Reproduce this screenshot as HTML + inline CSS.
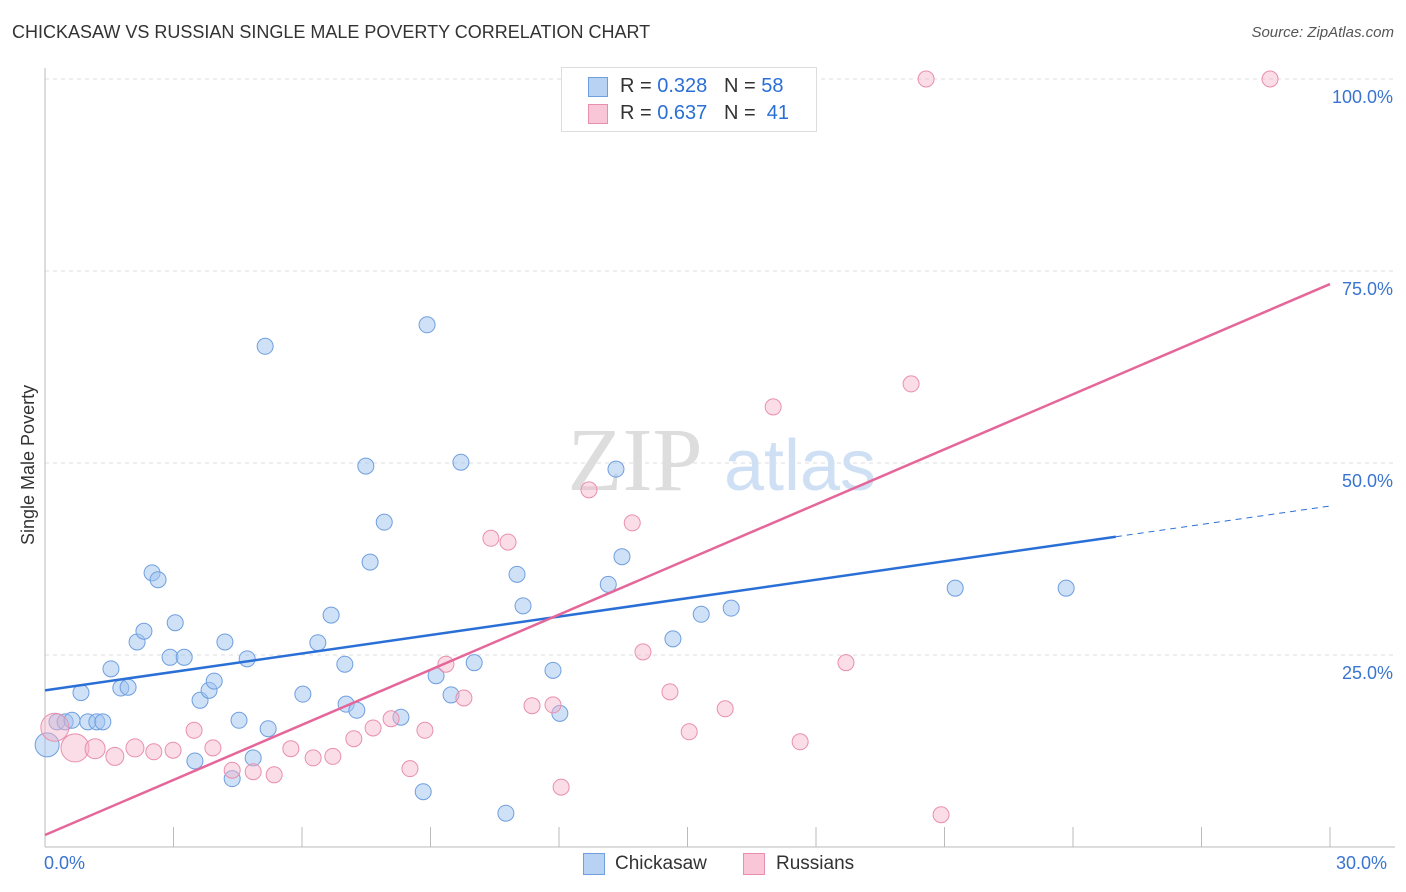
<!DOCTYPE html>
<html><head><meta charset="utf-8">
<style>
body{margin:0;background:#fff;font-family:"Liberation Sans",sans-serif;}
#wrap{position:relative;width:1406px;height:892px;overflow:hidden;}
.t{position:absolute;white-space:nowrap;}
</style></head><body>
<div id="wrap">
<div class="t" style="left:12px;top:22px;font-size:18px;color:#333;">CHICKASAW VS RUSSIAN SINGLE MALE POVERTY CORRELATION CHART</div>
<div class="t" style="right:12px;top:24px;font-size:15px;color:#555;font-style:italic;">Source: ZipAtlas.com</div>
<svg id="svg" width="1406" height="892" style="position:absolute;left:0;top:0"></svg>
</div>
<script>
const blueX=[0.05,0.28,0.47,0.63,1.0,1.21,1.35,0.84,1.54,1.77,1.94,2.15,2.31,2.50,2.64,2.92,3.04,3.25,3.62,3.83,3.95,4.20,4.53,4.72,4.86,4.37,3.50,5.14,5.21,6.02,6.37,6.68,7.00,7.03,7.28,7.49,7.59,7.92,8.31,8.83,8.92,9.13,9.48,9.71,10.02,11.02,11.16,10.76,11.86,12.02,13.15,13.33,13.47,14.66,15.32,16.02,21.25,23.84];
const blueY=[13.3,16.3,16.3,16.5,16.3,16.3,16.3,20.1,23.2,20.7,20.8,26.7,28.1,35.7,34.8,24.7,29.2,24.7,19.1,20.4,21.6,26.7,16.5,24.5,11.6,8.9,11.2,65.2,15.4,19.9,26.6,30.2,23.8,18.6,17.8,49.6,37.1,42.3,16.9,7.2,68.0,22.3,19.8,50.1,24.0,35.5,31.4,4.4,23.0,17.4,34.2,49.2,37.8,27.1,30.3,31.1,33.7,33.7];
const pinkX=[0.23,0.70,1.17,1.63,2.10,2.54,2.99,3.48,3.92,4.37,4.86,5.35,5.74,6.26,6.72,7.21,7.66,8.08,8.52,8.87,9.36,9.78,10.41,10.81,11.37,11.86,12.05,12.70,13.71,13.96,14.59,15.04,15.88,15.62,17.63,18.70,20.22,17.00,20.57,20.92,28.60];
const pinkY=[15.6,12.9,12.8,11.8,12.9,12.4,12.6,15.2,12.9,10.0,9.8,9.4,12.8,11.6,11.8,14.1,15.5,16.7,10.2,15.2,23.8,19.4,40.2,39.7,18.4,18.5,7.8,46.5,42.2,25.4,20.2,15.0,18.0,100,13.7,24.0,60.3,57.3,100,4.2,100];
const pinkR=[14,14,10,9,9,8,8,8,8,8,8,8,8,8,8,8,8,8,8,8,8,8,8,8,8,8,8,8,8,8,8,8,8,8,8,8,8,8,8,8,8];
const yTicks=[25,50,75,100];
const blueTrend=[20.4,44.4], pinkTrend=[1.56,73.3];
const svg=document.getElementById('svg');
const NS='http://www.w3.org/2000/svg';
const X=v=>45+v*(1285/30), Y=v=>847-v*7.68;
function mk(t,a,p){const e=document.createElementNS(NS,t);for(const k in a)e.setAttribute(k,a[k]);(p||svg).appendChild(e);return e;}
// grid
yTicks.forEach(v=>{const l=mk('line',{x1:45,x2:1395,y1:Y(v),y2:Y(v),stroke:'#ddd','stroke-dasharray':'4,4'});

const t=mk('text',{x:1393,y:Y(v)+24,'text-anchor':'end','font-size':'18',fill:'#3a74d0','font-family':'Liberation Sans'});t.textContent=v.toFixed(1)+'%';
});
let ax=mk('line',{x1:45,x2:45,y1:68,y2:847,stroke:'#bbb'});
ax=mk('line',{x1:45,x2:1395,y1:847,y2:847,stroke:'#bbb'});
for(let i=1;i<=10;i++){const l=mk('line',{x1:X(i*3),x2:X(i*3),y1:827,y2:847,stroke:'#bbb'});}
// watermark
let w=mk('text',{x:635,y:490,'font-size':'90','font-family':'Liberation Serif',fill:'#ddd','text-anchor':'middle'});w.textContent='ZIP';

w=mk('text',{x:800,y:490,'font-size':'72','font-family':'Liberation Sans',fill:'#cfe0f5','text-anchor':'middle'});w.textContent='atlas';

// points
blueX.forEach((x,i)=>{const c=mk('circle',{cx:X(x),cy:Y(blueY[i]),r:i==0?12:8,fill:'rgba(160,195,240,0.5)',stroke:'#6f9fdf','stroke-width':1});
});
pinkX.forEach((x,i)=>{const c=mk('circle',{cx:X(x),cy:Y(pinkY[i]),r:pinkR[i],fill:'rgba(245,180,200,0.45)',stroke:'#e98fae','stroke-width':1});
});
// trends
const bs=(blueTrend[1]-blueTrend[0])/30;
let l=mk('line',{x1:X(0),y1:Y(blueTrend[0]),x2:X(25),y2:Y(blueTrend[0]+bs*25),stroke:'#2a6fd6','stroke-width':2.5});

l=mk('line',{x1:X(25),y1:Y(blueTrend[0]+bs*25),x2:X(30),y2:Y(blueTrend[1]),stroke:'#2a6fd6','stroke-width':1,'stroke-dasharray':'6,5'});

l=mk('line',{x1:X(0),y1:Y(pinkTrend[0]),x2:X(30),y2:Y(pinkTrend[1]),stroke:'#e5679a','stroke-width':2.5});

</script>
<div class="t" style="left:18px;top:545px;transform:rotate(-90deg);transform-origin:0 0;font-size:18px;color:#333;">Single Male Poverty</div>
<div class="t" style="left:44px;top:853px;font-size:18px;color:#3a74d0;">0.0%</div>
<div class="t" style="left:1336px;top:853px;font-size:18px;color:#3a74d0;">30.0%</div>
<div style="position:absolute;left:561px;top:67px;width:254px;height:63px;border:1px solid #ddd;background:#fff;font-size:20px;color:#333;">
<div style="position:absolute;left:26px;top:9px;width:18px;height:18px;background:#b8d2f3;border:1px solid #6f9fdf;"></div>
<div class="t" style="left:58px;top:7px;">R = <span style="color:#2a6fd6">0.328</span>&nbsp;&nbsp;&nbsp;N = <span style="color:#2a6fd6">58</span></div>
<div style="position:absolute;left:26px;top:36px;width:18px;height:18px;background:#f8c6d6;border:1px solid #e98fae;"></div>
<div class="t" style="left:58px;top:34px;">R = <span style="color:#2a6fd6">0.637</span>&nbsp;&nbsp;&nbsp;N = &nbsp;<span style="color:#2a6fd6">41</span></div>
</div>
<div style="position:absolute;left:583px;top:853px;width:20px;height:20px;background:#b8d2f3;border:1px solid #6f9fdf;"></div>
<div class="t" style="left:615px;top:853px;font-size:19px;color:#333;">Chickasaw</div>
<div style="position:absolute;left:743px;top:853px;width:20px;height:20px;background:#f8c6d6;border:1px solid #e98fae;"></div>
<div class="t" style="left:776px;top:853px;font-size:19px;color:#333;">Russians</div>
</body></html>
